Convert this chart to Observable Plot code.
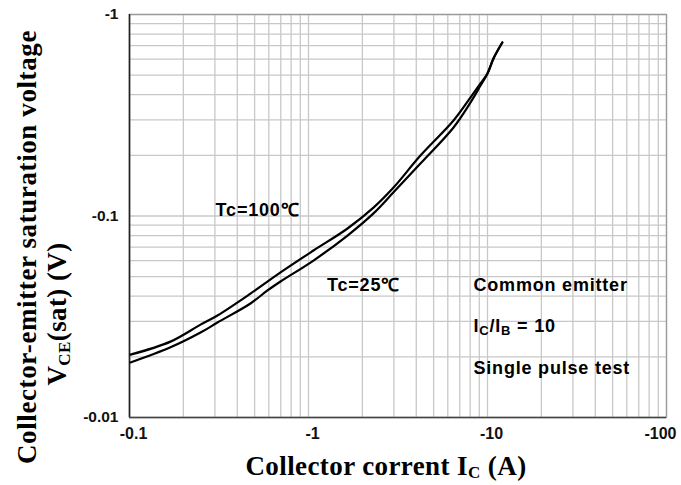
<!DOCTYPE html>
<html><head><meta charset="utf-8">
<script src="https://cdn.jsdelivr.net/npm/d3@7"></script>
<script src="https://cdn.jsdelivr.net/npm/@observablehq/plot@0.6"></script>
<style>body{margin:0;background:#fff}</style>
</head><body><div id="chart"></div>
<script>
// Collector current (A) and VCE(sat) (V)
const currentTc100 = [-0.1013, -0.1694, -0.2493, -0.310, -0.474, -0.698, -1.066, -1.652, -2.307, -2.985, -4.22, -6.46, -8.04, -9.14, -10.0, -10.8, -12.1];
const vceTc100     = [-0.0205, -0.0238, -0.0289, -0.0321, -0.0412, -0.0525, -0.0674, -0.0867, -0.110, -0.1384, -0.1996, -0.298, -0.388, -0.455, -0.510, -0.605, -0.726];
const currentTc25  = [-0.1013, -0.1694, -0.2493, -0.310, -0.474, -0.590, -0.698, -1.066, -1.652, -2.307, -2.985, -4.22, -6.46, -8.04, -9.14, -10.0, -10.8, -12.1];
const vceTc25      = [-0.01875, -0.0223, -0.0264, -0.0296, -0.0368, -0.0427, -0.0473, -0.0601, -0.080, -0.103, -0.131, -0.182, -0.275, -0.366, -0.444, -0.510, -0.605, -0.726];

const xTickLabels = [-0.1, -1, -10, -100];
const yTickLabels = [-0.01, -0.1, -1];
const xGrid = [-0.1,-0.2,-0.3,-0.4,-0.5,-0.6,-0.7,-0.8,-0.9,-1,-2,-3,-4,-5,-6,-7,-8,-9,-10,-20,-30,-40,-50,-60,-70,-80,-90,-100];
const yGrid = [-0.01,-0.02,-0.03,-0.04,-0.05,-0.06,-0.07,-0.08,-0.09,-0.1,-0.2,-0.3,-0.4,-0.5,-0.6,-0.7,-0.8,-0.9,-1];

const rows = [
  ...currentTc100.map((c,i)=>({series:"Tc=100℃", ic:c, v:vceTc100[i]})),
  ...currentTc25.map((c,i)=>({series:"Tc=25℃", ic:c, v:vceTc25[i]}))
];

const notes = [
  {text:"Tc=100℃", ic:-0.519, v:-0.1065},
  {text:"Tc=25℃", ic:-2.03, v:-0.0452}
];
const notesRight = [
  {text:"Common emitter", ic:-8.35, v:-0.0452},
  {text:"IC/IB = 10", ic:-8.35, v:-0.0283},
  {text:"Single pulse test", ic:-8.35, v:-0.0175}
];

const SANS = "'Liberation Sans', Arial, sans-serif";
const SERIF = "'Liberation Serif', 'Times New Roman', serif";

const plot = Plot.plot({
  width: 681, height: 485,
  marginLeft: 129, marginRight: 15, marginTop: 14, marginBottom: 68,
  style: {fontFamily: SANS, background: "#fff"},
  x: {type: "log", domain: [-0.1, -100], axis: null},
  y: {type: "log", domain: [-0.01, -1], axis: null},
  marks: [
    Plot.ruleX(xGrid, {stroke: "#c8c8c8", strokeWidth: 1.3}),
    Plot.ruleY(yGrid, {stroke: "#c8c8c8", strokeWidth: 1.3}),
    Plot.frame({stroke: "#9a9a9a", strokeWidth: 1.3}),
    Plot.ruleX([-0.1], {stroke: "#222", strokeWidth: 1.6}),
    Plot.ruleY([-0.01], {stroke: "#444", strokeWidth: 1.6}),
    Plot.line(rows, {x: "ic", y: "v", z: "series", stroke: "#000", strokeWidth: 2.2, curve: "catmull-rom"}),
    Plot.text(yTickLabels, {frameAnchor: "left", y: d => d, text: d => String(d), dx: -11, textAnchor: "end", fontWeight: "bold", fontSize: 15.5, fill: "#111"}),
    Plot.text(xTickLabels.slice(0,3), {x: d => d, frameAnchor: "bottom", dy: 21, text: d => String(d), fontWeight: "bold", fontSize: 16, fill: "#111", dx: 4}),
    Plot.text(xTickLabels.slice(3), {x: d => d, frameAnchor: "bottom", dy: 21, text: d => String(d), fontWeight: "bold", fontSize: 16, fill: "#111", textAnchor: "end", dx: 10}),
    Plot.text(notes, {x: "ic", y: "v", text: "text", fontWeight: "bold", fontSize: 18, fill: "#000"}),
    Plot.text(notesRight, {x: "ic", y: "v", text: "text", fontWeight: "bold", fontSize: 18, fill: "#000", textAnchor: "start"})
  ]
});

const svg = d3.select(plot);
svg.selectAll("text").filter(function(){ const s=this.textContent; return s.startsWith("Tc") || s==="Common emitter" || s==="IC/IB = 10" || s==="Single pulse test"; })
  .attr("letter-spacing", 0.8);
// subscripts in the ratio note
svg.selectAll("text").filter(function(){ return this.textContent === "IC/IB = 10"; }).each(function(){
  const t = d3.select(this);
  t.text("");
  t.append("tspan").text("I");
  t.append("tspan").attr("font-size", 13).attr("dy", 3).text("C");
  t.append("tspan").attr("dy", -3).text("/I");
  t.append("tspan").attr("font-size", 13).attr("dy", 3).text("B");
  t.append("tspan").attr("dy", -3).text(" = 10");
});

// axis titles
const xt = svg.append("text").attr("x", 386).attr("y", 475).attr("text-anchor", "middle")
  .attr("font-family", SERIF).attr("font-weight", "bold").attr("font-size", 27).attr("letter-spacing", 0.4).attr("fill", "#000");
xt.append("tspan").text("Collector corrent I");
xt.append("tspan").attr("font-size", 17).attr("dy", 3).text("C");
xt.append("tspan").attr("dy", -3).text(" (A)");

svg.append("text").attr("transform", "translate(36,247) rotate(-90)").attr("text-anchor", "middle")
  .attr("font-family", SERIF).attr("font-weight", "bold").attr("font-size", 27).attr("letter-spacing", 0.6).attr("fill", "#000")
  .text("Collector-emitter saturation voltage");
const y2 = svg.append("text").attr("transform", "translate(66,314) rotate(-90)").attr("text-anchor", "middle")
  .attr("font-family", SERIF).attr("font-weight", "bold").attr("font-size", 27).attr("letter-spacing", 0.4).attr("fill", "#000");
y2.append("tspan").text("V");
y2.append("tspan").attr("font-size", 17).attr("dy", 4).text("CE");
y2.append("tspan").attr("dy", -4).text("(sat) (V)");

document.getElementById("chart").appendChild(plot);
</script>
</body></html>
